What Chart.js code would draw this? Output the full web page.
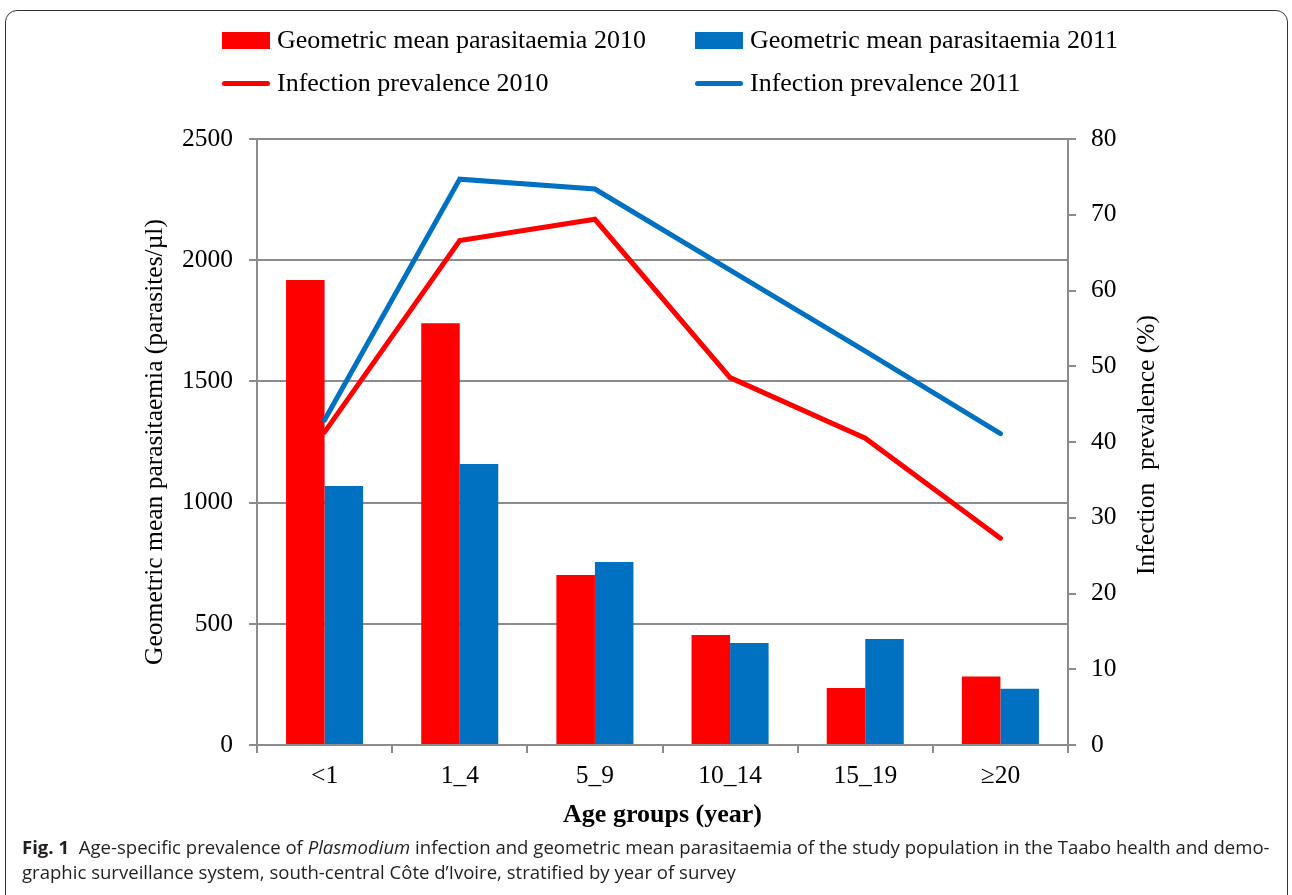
<!DOCTYPE html>
<html><head><meta charset="utf-8">
<script src="https://cdn.jsdelivr.net/npm/chart.js@4"></script>
<style>
html,body{margin:0;padding:0;background:#fff;width:1292px;height:895px;overflow:hidden;}
#frame{position:absolute;left:5px;top:10px;width:1283px;height:940px;border:1.5px solid #333;border-radius:12px;box-sizing:border-box;}
#wrap{position:absolute;left:0;top:0;width:1292px;height:895px;}
#legend{position:absolute;left:0;top:0;width:1292px;height:110px;font-family:'Liberation Serif';font-size:26px;color:#000;}
.item{position:absolute;display:flex;align-items:center;height:30px;white-space:nowrap;}
.sw{display:inline-block;width:48px;margin-right:7px;}
#caption{position:absolute;left:22px;top:835px;font-family:'Open Sans';font-size:18px;line-height:25px;color:#231f20;transform-origin:0 0;white-space:nowrap;}
#caption b{font-weight:700;}
</style></head>
<body>
<div id="frame"></div>
<div id="wrap"><canvas id="c"></canvas></div>
<div id="legend"></div>
<div id="caption"><div id="l1"><b>Fig. 1</b>&nbsp; Age-specific prevalence of <i>Plasmodium</i> infection and geometric mean parasitaemia of the study population in the Taabo health and demo-</div><div id="l2">graphic surveillance system, south-central Côte d’Ivoire, stratified by year of survey</div></div>
<script>
const categories = ['<1', '1_4', '5_9', '10_14', '15_19', '≥20'];
const parasitaemia2010 = [1918, 1740, 701, 454, 235, 283];
const parasitaemia2011 = [1068, 1159, 755, 421, 437, 232];
const prevalence2010 = [41.3, 66.6, 69.4, 48.5, 40.5, 27.3];
const prevalence2011 = [42.9, 74.7, 73.4, 62.7, 52.0, 41.1];
const leftAxisMax = 2500, leftAxisStep = 500;
const rightAxisMax = 80, rightAxisStep = 10;

const RED = '#ff0000', BLUE = '#0070c0', GRID = '#8c8c8c';
const SERIF = "'Liberation Serif', 'Times New Roman', serif";

const rightTitle = {
  id: 'rightTitle',
  afterDraw(chart) {
    const {ctx, chartArea} = chart;
    const s = chart.scales.y1;
    ctx.save();
    ctx.font = '25.5px ' + SERIF;
    ctx.fillStyle = '#000';
    ctx.textAlign = 'center';
    ctx.textBaseline = 'middle';
    ctx.translate(s.left + 79, (chartArea.top + chartArea.bottom) / 2 + 3);
    ctx.rotate(-Math.PI / 2);
    ctx.fillText('Infection  prevalence (%)', 0, 0);
    ctx.restore();
  }
};

const chart = new Chart(document.getElementById('c'), {
  data: {
    labels: categories,
    datasets: [
      {type: 'line', label: 'Infection prevalence 2010', data: prevalence2010, yAxisID: 'y1', borderColor: RED, backgroundColor: RED, borderWidth: 5, pointRadius: 0, tension: 0, borderCapStyle: 'round', borderJoinStyle: 'miter', order: 0},
      {type: 'line', label: 'Infection prevalence 2011', data: prevalence2011, yAxisID: 'y1', borderColor: BLUE, backgroundColor: BLUE, borderWidth: 5, pointRadius: 0, tension: 0, borderCapStyle: 'round', borderJoinStyle: 'miter', order: 0},
      {type: 'bar', label: 'Geometric mean parasitaemia 2010', data: parasitaemia2010, yAxisID: 'y', backgroundColor: RED, borderWidth: 0, barPercentage: 1, categoryPercentage: 0.57, order: 1},
      {type: 'bar', label: 'Geometric mean parasitaemia 2011', data: parasitaemia2011, yAxisID: 'y', backgroundColor: BLUE, borderWidth: 0, barPercentage: 1, categoryPercentage: 0.57, order: 1}
    ]
  },
  options: {
    responsive: true, maintainAspectRatio: false, animation: false,
    layout: {padding: {top: 139, left: 100, right: 100, bottom: 50}},
    plugins: {legend: {display: false}, tooltip: {enabled: false}},
    scales: {
      x: {
        type: 'category',
        offset: true,
        grid: {display: true, drawOnChartArea: false, drawTicks: true, tickLength: 8, color: GRID, lineWidth: 2, offset: true},
        border: {display: true, color: GRID, width: 2},
        ticks: {color: '#000', font: {family: SERIF, size: 25.5}, padding: 8, maxRotation: 0},
        title: {display: true, text: 'Age groups (year)', color: '#000', font: {family: SERIF, size: 26, weight: 'bold'}, padding: {top: 0, bottom: 14}},
        afterFit(s) { s.height = 100; }
      },
      y: {
        position: 'left', min: 0, max: leftAxisMax,
        ticks: {stepSize: leftAxisStep, color: '#000', font: {family: SERIF, size: 25.5}, padding: 16, callback: v => String(v)},
        grid: {color: GRID, lineWidth: 2, drawTicks: true, tickLength: 8},
        border: {display: true, color: GRID, width: 2},
        title: {display: true, text: 'Geometric mean parasitaemia (parasites/µl)', color: '#000', font: {family: SERIF, size: 25.5}, padding: {top: 40, bottom: 0}},
        afterFit(s) { s.width = 157; }
      },
      y1: {
        position: 'right', min: 0, max: rightAxisMax,
        ticks: {stepSize: rightAxisStep, color: '#000', font: {family: SERIF, size: 25.5}, padding: 15, callback: v => String(v)},
        grid: {drawOnChartArea: false, color: GRID, lineWidth: 2, drawTicks: true, tickLength: 8},
        border: {display: true, color: GRID, width: 2},
        afterFit(s) { s.width = 124; }
      }
    }
  },
  plugins: [rightTitle]
});

// HTML legend in two aligned columns, built from the chart's datasets
const legendOrder = [
  ['Geometric mean parasitaemia 2010', 222, 40],
  ['Geometric mean parasitaemia 2011', 695, 40],
  ['Infection prevalence 2010', 222, 83],
  ['Infection prevalence 2011', 695, 83]
];
const legendEl = document.getElementById('legend');
legendOrder.forEach(([label, x, y]) => {
  const ds = chart.data.datasets.find(d => d.label === label);
  const item = document.createElement('div');
  item.className = 'item';
  item.style.left = x + 'px';
  item.style.top = (y - 15) + 'px';
  const sw = document.createElement('span');
  sw.className = 'sw';
  if (ds.type === 'bar') {
    sw.style.height = '17px';
    sw.style.background = ds.backgroundColor;
  } else {
    sw.style.height = '5px';
    sw.style.borderRadius = '3px';
    sw.style.background = ds.borderColor;
  }
  const tx = document.createElement('span');
  tx.textContent = ds.label;
  item.appendChild(sw); item.appendChild(tx);
  legendEl.appendChild(item);
});

// fit the caption's first line to its width in the figure
const l1 = document.getElementById('l1');
const w = l1.scrollWidth;
const k = 1248 / w;
document.getElementById('caption').style.transform = 'scaleX(' + k + ')';
</script>
</body></html>
